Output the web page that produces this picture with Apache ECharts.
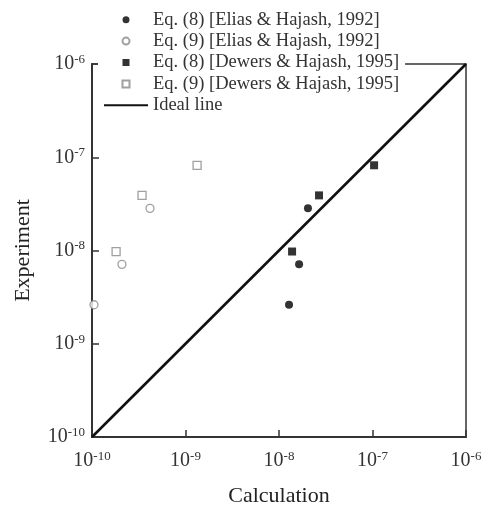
<!DOCTYPE html>
<html>
<head>
<meta charset="utf-8">
<script src="https://cdn.jsdelivr.net/npm/echarts@6/dist/echarts.min.js"></script>
<style>html,body{margin:0;padding:0;background:#fff;}#c{width:484px;height:506px;}</style>
</head>
<body>
<div id="c"></div>
<script>
// Data
const seriesNames = [
  'Eq. (8) [Elias & Hajash, 1992]',
  'Eq. (9) [Elias & Hajash, 1992]',
  'Eq. (8) [Dewers & Hajash, 1995]',
  'Eq. (9) [Dewers & Hajash, 1995]',
  'Ideal line'
];
const expElias = [2.83e-8, 7.1e-9, 2.62e-9];
const calcEq8Elias = [2.04e-8, 1.64e-8, 1.28e-8];
const calcEq9Elias = [4.17e-10, 2.09e-10, 1.05e-10];
const expDewers = [3.9e-8, 9.75e-9, 8.2e-8];
const calcEq8Dewers = [2.68e-8, 1.38e-8, 1.04e-7];
const calcEq9Dewers = [3.43e-10, 1.81e-10, 1.33e-9];
const idealLine = [[1e-10, 1e-10], [1e-6, 1e-6]];
const axisMin = 1e-10, axisMax = 1e-6;

function pairs(xs, ys) { return xs.map((x, i) => [x, ys[i]]); }
const serif = 'Liberation Serif';
function fmt(v) {
  const e = Math.round(Math.log10(v));
  return '{a|10}{b|' + e + '}';
}
const rich = {
  a: { fontSize: 20, fontFamily: serif, color: '#333', lineHeight: 22 },
  b: { fontSize: 13, fontFamily: serif, color: '#333', lineHeight: 10, verticalAlign: 'top' }
};
const axisCommon = {
  type: 'log', logBase: 10, min: axisMin, max: axisMax, splitNumber: 4,
  axisLine: { show: true, lineStyle: { color: '#333', width: 2 } },
  axisTick: { show: true, inside: true, length: 7, lineStyle: { color: '#333', width: 1.5 } },
  minorTick: { show: false },
  splitLine: { show: false },
  nameLocation: 'middle',
  nameTextStyle: { fontFamily: serif, fontSize: 22, color: '#222' }
};
const openStyle = { color: '#fff', borderColor: '#888', borderWidth: 1.3 };
const fillStyle = { color: '#000' };
const squareIcon = 'path://M0,0L10,0L10,10L0,10Z';

const chart = echarts.init(document.getElementById('c'), null, { renderer: 'canvas' });
chart.setOption({
  backgroundColor: '#fff',
  animation: false,
  grid: { left: 92, right: 18, top: 64, bottom: 69, show: true, borderColor: '#333', borderWidth: 1.5, backgroundColor: 'transparent', outerBoundsMode: 'none', containLabel: false },
  legend: {
    orient: 'vertical', left: 98, top: 4,
    padding: [5, 6, 2, 5],
    backgroundColor: '#fff',
    itemWidth: 44, itemHeight: 7, itemGap: 0,
    symbolKeepAspect: true,
    textStyle: { fontFamily: serif, fontSize: 18.5, color: '#333', lineHeight: 21.4 },
    data: [
      { name: seriesNames[0], icon: 'circle' },
      { name: seriesNames[1], icon: 'circle' },
      { name: seriesNames[2], icon: squareIcon },
      { name: seriesNames[3], icon: squareIcon },
      { name: seriesNames[4], itemStyle: { opacity: 0 } }
    ]
  },
  xAxis: Object.assign({}, axisCommon, {
    name: 'Calculation', nameGap: 48,
    axisLabel: { formatter: fmt, rich: rich, margin: 13 }
  }),
  yAxis: Object.assign({}, axisCommon, {
    name: 'Experiment', nameGap: 58,
    axisLabel: { formatter: fmt, rich: rich, margin: 7 }
  }),
  series: [
    { name: seriesNames[4], type: 'line', data: idealLine, symbol: 'none', lineStyle: { color: '#111', width: 2.6 }, itemStyle: { color: '#111' }, z: 1 },
    { name: seriesNames[0], type: 'scatter', data: pairs(calcEq8Elias, expElias), symbol: 'circle', symbolSize: 8, itemStyle: fillStyle, clip: false, z: 3 },
    { name: seriesNames[1], type: 'scatter', data: pairs(calcEq9Elias, expElias), symbol: 'circle', symbolSize: 8, itemStyle: openStyle, clip: false, z: 3 },
    { name: seriesNames[2], type: 'scatter', data: pairs(calcEq8Dewers, expDewers), symbol: 'rect', symbolSize: 8, itemStyle: fillStyle, clip: false, z: 3 },
    { name: seriesNames[3], type: 'scatter', data: pairs(calcEq9Dewers, expDewers), symbol: 'rect', symbolSize: 8, itemStyle: openStyle, clip: false, z: 3 }
  ]
});
</script>
</body>
</html>
